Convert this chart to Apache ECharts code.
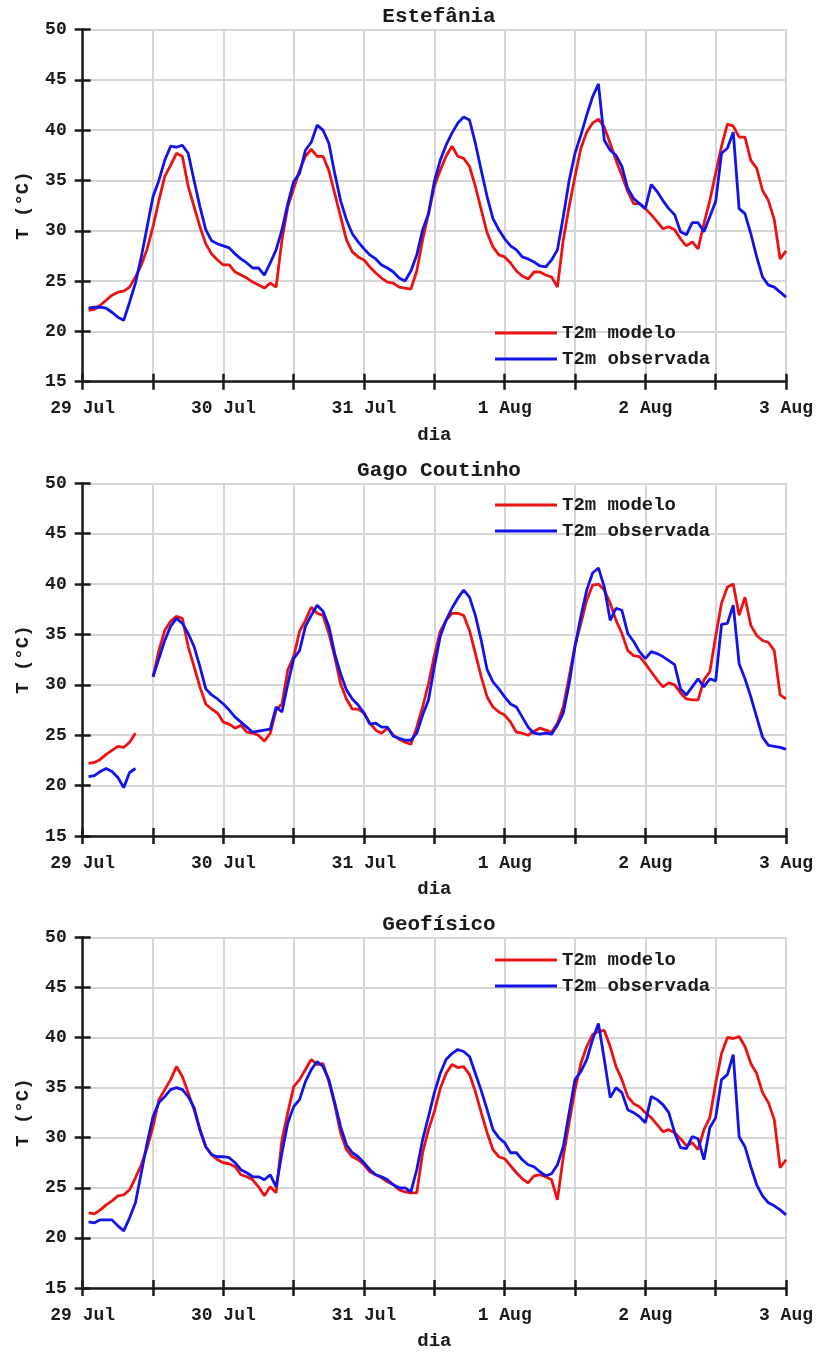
<!DOCTYPE html>
<html>
<head>
<meta charset="utf-8">
<script src="https://cdn.jsdelivr.net/npm/echarts@6/dist/echarts.min.js"></script>
<style>html,body{margin:0;padding:0;background:#fff}#c{width:822px;height:1352px}</style>
</head>
<body>
<div id="c"></div>
<script>
// ---- data (hourly values, first value at hour 1 after 29 Jul 00h) ----
const dayLabels = ['29 Jul','30 Jul','31 Jul','1 Aug','2 Aug','3 Aug'];
const stationNames = ['Estefânia','Gago Coutinho','Geofísico'];
const seriesNames = ['T2m modelo','T2m observada'];
const firstHour = 1;

const estModelo = [22.1,22.2,22.6,23.1,23.6,23.9,24.0,24.4,25.4,26.6,
28.2,30.4,33.0,35.4,36.5,37.7,37.4,34.4,32.4,30.4,
28.7,27.7,27.1,26.6,26.6,25.9,25.6,25.3,24.9,24.6,
24.3,24.8,24.4,29.1,32.4,34.2,36.0,37.4,38.1,37.4,
37.4,36.0,33.7,31.4,29.1,27.9,27.4,27.1,26.4,25.8,
25.3,24.9,24.8,24.4,24.3,24.2,26.0,29.1,31.7,34.4,
36.0,37.4,38.4,37.4,37.2,36.4,34.4,32.1,29.8,28.4,
27.6,27.4,26.8,26.0,25.5,25.2,25.9,25.9,25.6,25.4,
24.4,29.1,32.4,35.4,38.2,39.8,40.7,41.1,40.3,38.7,
37.0,35.5,33.9,32.7,32.7,32.2,31.6,30.9,30.2,30.4,
30.1,29.2,28.5,28.9,28.2,30.7,33.0,35.7,38.4,40.6,
40.4,39.3,39.3,37.0,36.2,34.0,33.0,31.1,27.2,28.0];

const estObservada = [22.3,22.4,22.4,22.3,21.9,21.4,21.1,22.9,24.8,27.4,
30.4,33.4,35.0,37.0,38.4,38.3,38.5,37.7,35.0,32.4,
30.1,29.0,28.7,28.5,28.3,27.7,27.2,26.8,26.3,26.3,
25.6,26.8,28.1,30.1,32.7,34.9,35.7,38.0,38.8,40.5,
40.0,38.7,35.7,33.0,31.1,29.7,28.9,28.2,27.6,27.2,
26.6,26.3,25.9,25.3,25.0,26.0,27.6,30.1,31.7,34.9,
37.0,38.5,39.7,40.7,41.3,41.0,38.7,36.0,33.4,31.2,
30.1,29.2,28.5,28.1,27.4,27.2,26.9,26.5,26.4,27.1,
28.1,31.4,35.0,37.7,39.5,41.5,43.3,44.6,39.0,38.0,
37.5,36.4,34.2,33.2,32.7,32.2,34.6,33.9,33.0,32.2,
31.6,29.9,29.6,30.8,30.8,29.9,31.4,32.9,37.7,38.2,
39.8,32.2,31.7,29.7,27.4,25.4,24.6,24.4,23.9,23.4];

const gagoModelo = [22.2,22.3,22.6,23.1,23.5,23.9,23.8,24.3,25.2,null,
null,30.8,33.4,35.4,36.3,36.8,36.6,33.8,31.8,29.8,
28.1,27.6,27.2,26.3,26.1,25.7,26.0,25.3,25.2,25.0,
24.4,25.2,27.5,28.1,31.5,32.8,35.3,36.4,37.7,37.1,
36.9,35.1,32.8,30.1,28.6,27.6,27.6,27.2,26.2,25.5,
25.2,25.7,25.0,24.6,24.3,24.1,25.8,27.8,30.1,32.9,
35.3,36.4,37.1,37.1,36.9,35.4,33.1,30.8,28.8,27.8,
27.3,27.0,26.3,25.3,25.2,25.0,25.4,25.7,25.5,25.3,
26.2,27.8,30.8,33.9,36.1,38.4,39.9,40.0,39.4,38.1,
36.4,35.1,33.4,32.9,32.8,32.1,31.3,30.5,29.8,30.2,
30.0,29.2,28.6,28.5,28.5,30.5,31.3,34.8,38.1,39.7,
40.0,36.9,38.7,35.9,34.9,34.4,34.2,33.4,29.0,28.6];

const gagoObservada = [20.9,21.0,21.4,21.7,21.4,20.8,19.8,21.3,21.7,null,
null,30.8,32.6,34.4,35.8,36.6,36.1,35.1,33.8,31.8,
29.6,29.0,28.6,28.1,27.5,26.8,26.3,25.8,25.3,25.4,
25.5,25.6,27.8,27.3,30.1,32.6,33.4,35.8,36.9,37.9,
37.3,35.8,33.1,31.1,29.5,28.6,28.0,27.2,26.1,26.2,
25.8,25.8,24.9,24.7,24.5,24.5,25.2,27.0,28.5,31.8,
34.8,36.4,37.6,38.6,39.4,38.7,36.9,34.4,31.5,30.3,
29.6,28.8,28.1,27.8,26.8,25.8,25.2,25.1,25.2,25.1,
26.0,27.2,30.1,33.8,36.8,39.4,41.1,41.6,39.7,36.4,
37.6,37.4,35.1,34.3,33.3,32.6,33.3,33.1,32.8,32.4,
32.0,29.6,29.0,29.8,30.6,29.8,30.6,30.4,36.0,36.1,
37.9,32.1,30.6,28.8,26.8,24.8,24.0,23.9,23.8,23.6];

const geoModelo = [22.5,22.4,22.8,23.3,23.7,24.2,24.3,24.8,26.0,27.3,
29.0,31.1,33.8,34.8,35.8,37.1,36.1,34.5,32.8,30.8,
29.1,28.3,27.8,27.5,27.4,27.1,26.3,26.1,25.8,25.1,
24.2,25.1,24.5,29.8,32.5,35.1,35.8,36.8,37.8,37.3,
37.4,35.6,33.3,30.5,28.8,28.1,27.8,27.3,26.6,26.3,
26.0,25.6,25.3,24.8,24.6,24.5,24.5,28.5,30.8,32.6,
34.9,36.4,37.3,37.0,37.1,36.3,34.6,32.5,30.5,28.8,
28.1,27.9,27.2,26.5,25.9,25.5,26.2,26.3,26.1,25.8,
23.8,28.1,31.5,34.8,37.4,39.1,40.3,40.6,40.7,39.1,
37.1,35.8,34.1,33.4,33.1,32.5,32.0,31.3,30.6,30.8,
30.5,29.9,29.2,29.5,28.8,30.8,32.0,35.4,38.4,40.0,
39.9,40.1,39.1,37.4,36.4,34.5,33.5,31.8,27.0,27.8];

const geoObservada = [21.6,21.5,21.8,21.8,21.8,21.2,20.7,22.0,23.5,26.5,
29.5,32.1,33.5,34.1,34.8,35.0,34.8,34.1,33.0,30.8,
29.1,28.3,28.1,28.1,28.0,27.5,26.8,26.5,26.1,26.1,
25.8,26.3,25.1,28.5,31.5,33.1,33.8,35.6,36.8,37.6,
37.1,35.8,33.5,31.1,29.3,28.5,28.1,27.5,26.8,26.3,
26.1,25.8,25.3,25.0,25.0,24.6,26.8,29.8,32.1,34.5,
36.4,37.8,38.4,38.8,38.6,38.1,36.4,34.7,32.8,30.8,
30.0,29.5,28.5,28.5,27.8,27.3,27.1,26.6,26.2,26.4,
27.3,29.1,32.5,35.8,36.6,37.8,39.8,41.4,37.8,34.0,
35.0,34.5,32.8,32.5,32.1,31.5,34.1,33.8,33.3,32.5,
30.5,29.0,28.9,30.1,29.9,27.8,31.0,32.0,35.8,36.3,
38.3,30.1,29.1,27.1,25.3,24.2,23.5,23.2,22.8,22.3];

// ---- chart ----
const FONT = "'Liberation Mono','DejaVu Sans Mono',monospace";
const INK = '#1a1a1a';
const RED = '#ec1212';
const BLUE = '#1212ea';
const panels = [
  {title: stationNames[0], top: 29.5, h: 352.2, titleTop: 1, legendTop: 323, modelo: estModelo, obs: estObservada},
  {title: stationNames[1], top: 483.3, h: 352.7, titleTop: 455, legendTop: 495, modelo: gagoModelo, obs: gagoObservada},
  {title: stationNames[2], top: 937.3, h: 351, titleTop: 909, legendTop: 950, modelo: geoModelo, obs: geoObservada}
];
const toPts = vals => vals.map((v, i) => [firstHour + i, v]);

const grid = [], xAxis = [], yAxis = [], series = [], title = [], legend = [];
panels.forEach((p, k) => {
  grid.push({left: 82.7, width: 703.3, top: p.top, height: p.h, containLabel: false});
  title.push({text: p.title, left: 434, textAlign: 'center', top: p.titleTop,
    textStyle: {fontFamily: FONT, fontWeight: 'bold', fontSize: 21, color: INK}});
  legend.push({orient: 'vertical', left: 495, top: p.legendTop, padding: 0,
    icon: 'rect', itemWidth: 62, itemHeight: 2.8, itemGap: 6, data: seriesNames,
    textStyle: {fontFamily: FONT, fontWeight: 'bold', fontSize: 19, lineHeight: 20, color: INK}});
  const xBase = {gridIndex: k, type: 'value', min: 0, max: 120, interval: 12, position: 'bottom'};
  xAxis.push(Object.assign({}, xBase, {
    name: 'dia', nameLocation: 'middle', nameGap: 44,
    nameTextStyle: {fontFamily: FONT, fontWeight: 'bold', fontSize: 19, color: INK},
    axisLine: {show: true, onZero: false, lineStyle: {color: INK, width: 2.5}},
    axisTick: {show: true, length: 8, lineStyle: {color: INK, width: 2.5}},
    axisLabel: {margin: 18, fontFamily: FONT, fontWeight: 'bold', fontSize: 18, color: INK,
      formatter: v => (v % 24 === 0 ? dayLabels[v / 24] : '')},
    splitLine: {show: true, lineStyle: {color: '#d6d6d6', width: 2}}
  }));
  xAxis.push(Object.assign({}, xBase, {
    axisLine: {show: false}, axisLabel: {show: false}, splitLine: {show: false},
    axisTick: {show: true, inside: true, length: 8, lineStyle: {color: INK, width: 2.5}}
  }));
  const yBase = {gridIndex: k, type: 'value', min: 15, max: 50, interval: 5, position: 'left'};
  yAxis.push(Object.assign({}, yBase, {
    name: 'T (°C)', nameLocation: 'middle', nameGap: 50,
    nameTextStyle: {fontFamily: FONT, fontWeight: 'bold', fontSize: 19, color: INK},
    axisLine: {show: true, onZero: false, lineStyle: {color: INK, width: 2.5}},
    axisTick: {show: true, length: 8, lineStyle: {color: INK, width: 2.5}},
    axisLabel: {margin: 16, fontFamily: FONT, fontWeight: 'bold', fontSize: 18, color: INK},
    splitLine: {show: true, lineStyle: {color: '#d6d6d6', width: 2}}
  }));
  yAxis.push(Object.assign({}, yBase, {
    axisLine: {show: false}, axisLabel: {show: false}, splitLine: {show: false},
    axisTick: {show: true, inside: true, length: 8, lineStyle: {color: INK, width: 2.5}}
  }));
  [[seriesNames[0], p.modelo, RED], [seriesNames[1], p.obs, BLUE]].forEach(([name, vals, col]) => {
    series.push({name, type: 'line', xAxisIndex: 2 * k, yAxisIndex: 2 * k,
      data: toPts(vals), symbol: 'none', connectNulls: false,
      lineStyle: {color: col, width: 2.8}, itemStyle: {color: col}, z: name === seriesNames[0] ? 3 : 4});
  });
});

const chart = echarts.init(document.getElementById('c'), null, {renderer: 'canvas'});
chart.setOption({animation: false, backgroundColor: '#fff', title, legend, grid, xAxis, yAxis, series});
</script>
</body>
</html>
